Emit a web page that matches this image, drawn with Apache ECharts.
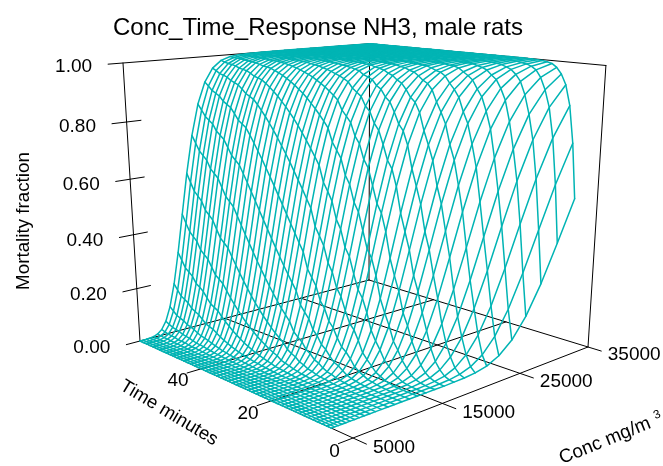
<!DOCTYPE html>
<html>
<head>
<meta charset="utf-8">
<style>html,body{margin:0;padding:0;background:#fff}#c{width:663px;height:466px}</style>
<script src="https://cdn.jsdelivr.net/npm/echarts@6/dist/echarts.min.js"></script>
</head>
<body>
<div id="c"></div>
<script>
const concValues = [5000,5347,5718,6115,6540,6994,7479,7998,8553,9147,9782,10461,11187,11964,12794,13682,14632,15648,16734,17895,19138,20466,21887,23406,25031,26768,28626,30613,32738,35000];
const timeValues = [5,6.12,7.24,8.37,9.49,10.61,11.73,12.86,13.98,15.1,16.22,17.35,18.47,19.59,20.71,21.84,22.96,24.08,25.2,26.33,27.45,28.57,29.69,30.82,31.94,33.06,34.18,35.31,36.43,37.55,38.67,39.8,40.92,42.04,43.16,44.29,45.41,46.53,47.65,48.78,49.9,51.02,52.14,53.27,54.39,55.51,56.63,57.76,58.88,60];
// mortality fraction: one row per time value, one column per concentration
const mortality = [
[0,0,0,0,0,0,0,0,0,0,0,0,0,0,0,0,0,0,0,0,.001,.002,.006,.015,.037,.078,.148,.251,.383,.53],
[0,0,0,0,0,0,0,0,0,0,0,0,0,0,0,0,0,0,0,.001,.003,.009,.022,.05,.102,.185,.301,.441,.589,.724],
[0,0,0,0,0,0,0,0,0,0,0,0,0,0,0,0,0,0,.001,.004,.01,.026,.059,.116,.206,.327,.47,.617,.749,.852],
[0,0,0,0,0,0,0,0,0,0,0,0,0,0,0,0,0,.001,.004,.01,.026,.059,.116,.206,.327,.47,.617,.749,.852,.922],
[0,0,0,0,0,0,0,0,0,0,0,0,0,0,0,0,.001,.003,.009,.022,.05,.102,.185,.301,.441,.589,.724,.834,.91,.957],
[0,0,0,0,0,0,0,0,0,0,0,0,0,0,0,.001,.002,.007,.018,.043,.09,.166,.276,.411,.559,.699,.815,.898,.95,.978],
[0,0,0,0,0,0,0,0,0,0,0,0,0,0,.001,.002,.006,.015,.037,.078,.148,.251,.383,.53,.673,.794,.884,.941,.974,.99],
[0,0,0,0,0,0,0,0,0,0,0,0,0,0,.001,.004,.01,.026,.059,.116,.206,.327,.47,.617,.749,.852,.922,.963,.985,.994],
[0,0,0,0,0,0,0,0,0,0,0,0,0,.001,.002,.007,.018,.043,.09,.166,.276,.411,.559,.699,.815,.898,.95,.978,.991,.997],
[0,0,0,0,0,0,0,0,0,0,0,0,0,.001,.004,.01,.026,.059,.116,.206,.327,.47,.617,.749,.852,.922,.963,.985,.994,.998],
[0,0,0,0,0,0,0,0,0,0,0,0,.001,.002,.007,.018,.043,.09,.166,.276,.411,.559,.699,.815,.898,.95,.978,.991,.997,.999],
[0,0,0,0,0,0,0,0,0,0,0,0,.001,.004,.01,.026,.059,.116,.206,.327,.47,.617,.749,.852,.922,.963,.985,.994,.998,.999],
[0,0,0,0,0,0,0,0,0,0,0,.001,.002,.006,.015,.037,.078,.148,.251,.383,.53,.673,.794,.884,.941,.974,.99,.996,.999,1],
[0,0,0,0,0,0,0,0,0,0,0,.001,.004,.01,.026,.059,.116,.206,.327,.47,.617,.749,.852,.922,.963,.985,.994,.998,.999,1],
[0,0,0,0,0,0,0,0,0,0,.001,.002,.006,.015,.037,.078,.148,.251,.383,.53,.673,.794,.884,.941,.974,.99,.996,.999,1,1],
[0,0,0,0,0,0,0,0,0,0,.001,.002,.007,.018,.043,.09,.166,.276,.411,.559,.699,.815,.898,.95,.978,.991,.997,.999,1,1],
[0,0,0,0,0,0,0,0,0,0,.001,.004,.01,.026,.059,.116,.206,.327,.47,.617,.749,.852,.922,.963,.985,.994,.998,.999,1,1],
[0,0,0,0,0,0,0,0,0,.001,.002,.006,.015,.037,.078,.148,.251,.383,.53,.673,.794,.884,.941,.974,.99,.996,.999,1,1,1],
[0,0,0,0,0,0,0,0,0,.001,.002,.007,.018,.043,.09,.166,.276,.411,.559,.699,.815,.898,.95,.978,.991,.997,.999,1,1,1],
[0,0,0,0,0,0,0,0,0,.001,.004,.01,.026,.059,.116,.206,.327,.47,.617,.749,.852,.922,.963,.985,.994,.998,.999,1,1,1],
[0,0,0,0,0,0,0,0,0,.001,.005,.013,.031,.068,.132,.228,.355,.5,.645,.772,.868,.932,.969,.987,.995,.999,1,1,1,1],
[0,0,0,0,0,0,0,0,.001,.002,.007,.018,.043,.09,.166,.276,.411,.559,.699,.815,.898,.95,.978,.991,.997,.999,1,1,1,1],
[0,0,0,0,0,0,0,0,.001,.003,.009,.022,.05,.102,.185,.301,.441,.589,.724,.834,.91,.957,.982,.993,.998,.999,1,1,1,1],
[0,0,0,0,0,0,0,0,.001,.004,.01,.026,.059,.116,.206,.327,.47,.617,.749,.852,.922,.963,.985,.994,.998,.999,1,1,1,1],
[0,0,0,0,0,0,0,.001,.002,.006,.015,.037,.078,.148,.251,.383,.53,.673,.794,.884,.941,.974,.99,.996,.999,1,1,1,1,1],
[0,0,0,0,0,0,0,.001,.002,.007,.018,.043,.09,.166,.276,.411,.559,.699,.815,.898,.95,.978,.991,.997,.999,1,1,1,1,1],
[0,0,0,0,0,0,0,.001,.003,.009,.022,.05,.102,.185,.301,.441,.589,.724,.834,.91,.957,.982,.993,.998,.999,1,1,1,1,1],
[0,0,0,0,0,0,0,.001,.004,.01,.026,.059,.116,.206,.327,.47,.617,.749,.852,.922,.963,.985,.994,.998,.999,1,1,1,1,1],
[0,0,0,0,0,0,0,.001,.005,.013,.031,.068,.132,.228,.355,.5,.645,.772,.868,.932,.969,.987,.995,.999,1,1,1,1,1,1],
[0,0,0,0,0,0,.001,.002,.006,.015,.037,.078,.148,.251,.383,.53,.673,.794,.884,.941,.974,.99,.996,.999,1,1,1,1,1,1],
[0,0,0,0,0,0,.001,.002,.007,.018,.043,.09,.166,.276,.411,.559,.699,.815,.898,.95,.978,.991,.997,.999,1,1,1,1,1,1],
[0,0,0,0,0,0,.001,.003,.009,.022,.05,.102,.185,.301,.441,.589,.724,.834,.91,.957,.982,.993,.998,.999,1,1,1,1,1,1],
[0,0,0,0,0,0,.001,.004,.01,.026,.059,.116,.206,.327,.47,.617,.749,.852,.922,.963,.985,.994,.998,.999,1,1,1,1,1,1],
[0,0,0,0,0,0,.001,.005,.013,.031,.068,.132,.228,.355,.5,.645,.772,.868,.932,.969,.987,.995,.999,1,1,1,1,1,1,1],
[0,0,0,0,0,.001,.002,.006,.015,.037,.078,.148,.251,.383,.53,.673,.794,.884,.941,.974,.99,.996,.999,1,1,1,1,1,1,1],
[0,0,0,0,0,.001,.002,.007,.018,.043,.09,.166,.276,.411,.559,.699,.815,.898,.95,.978,.991,.997,.999,1,1,1,1,1,1,1],
[0,0,0,0,0,.001,.003,.009,.022,.05,.102,.185,.301,.441,.589,.724,.834,.91,.957,.982,.993,.998,.999,1,1,1,1,1,1,1],
[0,0,0,0,0,.001,.004,.01,.026,.059,.116,.206,.327,.47,.617,.749,.852,.922,.963,.985,.994,.998,.999,1,1,1,1,1,1,1],
[0,0,0,0,0,.001,.005,.013,.031,.068,.132,.228,.355,.5,.645,.772,.868,.932,.969,.987,.995,.999,1,1,1,1,1,1,1,1],
[0,0,0,0,.001,.002,.006,.014,.034,.073,.14,.24,.369,.515,.659,.783,.876,.937,.972,.989,.996,.999,1,1,1,1,1,1,1,1],
[0,0,0,0,.001,.002,.006,.015,.037,.078,.148,.251,.383,.53,.673,.794,.884,.941,.974,.99,.996,.999,1,1,1,1,1,1,1,1],
[0,0,0,0,.001,.002,.007,.018,.043,.09,.166,.276,.411,.559,.699,.815,.898,.95,.978,.991,.997,.999,1,1,1,1,1,1,1,1],
[0,0,0,0,.001,.003,.009,.022,.05,.102,.185,.301,.441,.589,.724,.834,.91,.957,.982,.993,.998,.999,1,1,1,1,1,1,1,1],
[0,0,0,0,.001,.004,.01,.024,.055,.109,.196,.314,.456,.603,.737,.843,.916,.96,.984,.994,.998,.999,1,1,1,1,1,1,1,1],
[0,0,0,0,.001,.004,.01,.026,.059,.116,.206,.327,.47,.617,.749,.852,.922,.963,.985,.994,.998,.999,1,1,1,1,1,1,1,1],
[0,0,0,0,.001,.005,.013,.031,.068,.132,.228,.355,.5,.645,.772,.868,.932,.969,.987,.995,.999,1,1,1,1,1,1,1,1,1],
[0,0,0,.001,.002,.006,.014,.034,.073,.14,.24,.369,.515,.659,.783,.876,.937,.972,.989,.996,.999,1,1,1,1,1,1,1,1,1],
[0,0,0,.001,.002,.006,.015,.037,.078,.148,.251,.383,.53,.673,.794,.884,.941,.974,.99,.996,.999,1,1,1,1,1,1,1,1,1],
[0,0,0,.001,.002,.007,.018,.043,.09,.166,.276,.411,.559,.699,.815,.898,.95,.978,.991,.997,.999,1,1,1,1,1,1,1,1,1],
[0,0,0,.001,.003,.009,.022,.05,.102,.185,.301,.441,.589,.724,.834,.91,.957,.982,.993,.998,.999,1,1,1,1,1,1,1,1,1]
];
const concTicks = [5000,15000,25000,35000];
const timeTicks = [0,20,40];
const mortalityTicks = [0,.2,.4,.6,.8,1];
const concRange = [5000,35000];
const timeRange = [0,60];

// Camera calibration: where the corners of the box fall on the page
const cam = {A:[353,438],B:[588,347],C:[140,341],D:[369,280],E:[123,63],F:[606,64]};
const TICK = 0.05;

function buildCamera(c){
  const dx1=c.B[0]-c.D[0],dx2=c.C[0]-c.D[0],sx=c.A[0]-c.B[0]+c.D[0]-c.C[0];
  const dy1=c.B[1]-c.D[1],dy2=c.C[1]-c.D[1],sy=c.A[1]-c.B[1]+c.D[1]-c.C[1];
  const den=dx1*dy2-dx2*dy1;
  const g=(sx*dy2-dx2*sy)/den,h=(dx1*sy-sx*dy1)/den;
  const a=c.B[0]-c.A[0]+g*c.B[0],b=c.C[0]-c.A[0]+h*c.C[0];
  const d=c.B[1]-c.A[1]+g*c.B[1],e=c.C[1]-c.A[1]+h*c.C[1];
  // vanishing point of the vertical direction
  const m1=(c.E[0]-c.C[0])/(c.E[1]-c.C[1]),m2=(c.F[0]-c.B[0])/(c.F[1]-c.B[1]);
  const Vy=(c.B[0]-m2*c.B[1]-c.C[0]+m1*c.C[1])/(m1-m2),Vx=c.C[0]+m1*(Vy-c.C[1]);
  const s=(h+1)*(c.C[1]-c.E[1])/(c.E[1]-Vy);
  return (u,v,w)=>{
    const W=g*u+h*v+1+s*w;
    return [(a*u+b*v+c.A[0]+s*w*Vx)/W,(d*u+e*v+c.A[1]+s*w*Vy)/W];
  };
}
const proj=buildCamera(cam);
const U=x=>(x-concRange[0])/(concRange[1]-concRange[0]);
const V=t=>(t-timeRange[0])/(timeRange[1]-timeRange[0]);

const MESH='#00b4b4',INK='#000';
function line(data,color,z,width){
  return {type:'line',data,showSymbol:false,symbol:'none',silent:true,animation:false,clip:false,z,
    lineStyle:{color,width:width||1,cap:'round',join:'round'}};
}
function labels(items,position){
  return {type:'scatter',symbolSize:0,silent:true,animation:false,clip:false,z:5,
    itemStyle:{opacity:1},
    data:items.map(d=>({value:d.p,label:{formatter:d.t}})),
    label:{show:true,position,distance:0,color:'#000',fontFamily:'Liberation Sans',fontSize:19}};
}
const series=[];
// box
const box=[
 [[1,1,0],[-TICK,1,0]],[[1,1,0],[1,-TICK,0]],[[1,0,0],[-TICK,0,0]],[[0,1,0],[0,-TICK,0]],
 [[0,1,0],[0,1,1]],[[1,1,0],[1,1,1]],[[1,0,0],[1,0,1]],
 [[-TICK,1,1],[1,1,1]],[[1,1,1],[1,0,1]]
];
box.forEach(b=>series.push(line(b.map(p=>proj(...p)),INK,1)));
concTicks.slice(1,-1).forEach(x=>series.push(line([proj(U(x),1,0),proj(U(x),-TICK,0)],INK,1)));
timeTicks.slice(1).forEach(t=>series.push(line([proj(1,V(t),0),proj(-TICK,V(t),0)],INK,1)));
mortalityTicks.slice(1,-1).forEach(m=>series.push(line([proj(-TICK,1,m),proj(TICK,1,m)],INK,1)));
// wire mesh
timeValues.forEach((t,i)=>series.push(line(concValues.map((x,j)=>proj(U(x),V(t),mortality[i][j])),MESH,3,1.5)));
concValues.forEach((x,j)=>series.push(line(timeValues.map((t,i)=>proj(U(x),V(t),mortality[i][j])),MESH,3,1.5)));
// tick labels
series.push(labels(concTicks.map(x=>{const p=proj(U(x),-TICK,0);return {p:[p[0]+6.5,p[1]+4],t:String(x)};}),'right'));
series.push(labels(timeTicks.map(t=>{const p=proj(-TICK,V(t),0);return {p:[p[0]+1.5,p[1]+8],t:String(t)};}),'left'));
series.push(labels(mortalityTicks.map(m=>{const p=proj(-TICK,1,m);return {p:[p[0]-16,p[1]+3],t:m.toFixed(2)};}),'left'));

const txt=(x,y,text,size,rot)=>({type:'text',x,y,rotation:(rot||0)*Math.PI/180,
  style:{text,fill:'#000',font:size+'px "Liberation Sans"',textAlign:'center',textVerticalAlign:'middle'}});

const chart=echarts.init(document.getElementById('c'),null,{renderer:'canvas'});
chart.setOption({
  animation:false,backgroundColor:'#fff',
  grid:{left:0,right:0,top:0,bottom:0,containLabel:false},
  xAxis:{type:'value',min:0,max:663,show:false},
  yAxis:{type:'value',min:0,max:466,inverse:true,show:false},
  title:{text:'Conc_Time_Response NH3, male rats',left:313,top:11,textAlign:'center',
    textStyle:{fontFamily:'Liberation Sans',fontSize:24,fontWeight:'normal',color:'#000'}},
  graphic:[
    txt(24,221,'Mortality fraction',18.8,90),
    txt(169,413,'Time minutes',18.5,-31),
    txt(605,441,'Conc mg/m',19,22),
    txt(657,415,'3',12,22)
  ],
  series
});
</script>
</body>
</html>
